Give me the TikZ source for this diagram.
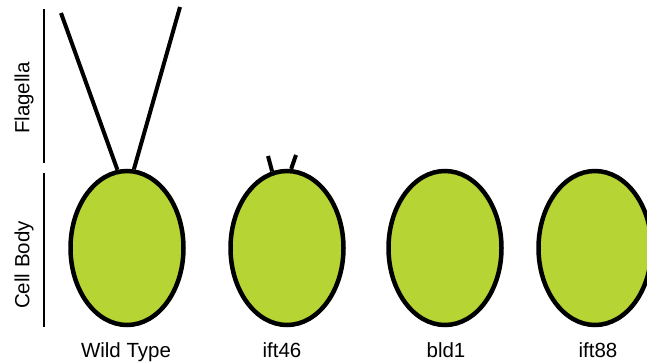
\documentclass[tikz,border=0pt]{standalone}
\usepackage{fontspec}
\setmainfont{Liberation Sans}
\usepackage{xcolor}
\usepackage{tikz}
\usetikzlibrary{shapes.geometric}
\definecolor{cellgreen}{RGB}{182,212,52}

\begin{document}
\begin{tikzpicture}[x=1pt,y=-1pt,line width=4.5pt,
    cell/.style={ellipse,draw=black,fill=cellgreen,inner sep=0pt,minimum width=113pt,minimum height=154pt},
    flag/.style={line width=4pt},
    bar/.style={line width=2.5pt},
    lbl/.style={font=\fontsize{20.5}{24}\selectfont}]
  \useasboundingbox (0,0) rectangle (647,362);
  % cell bodies
  \node[cell] (wt) at (127,248) {};
  \node[cell] (ift46) at (287,248) {};
  \node[cell] (bld1) at (445,248) {};
  \node[cell] (ift88) at (595,248) {};
  % flagella
  \coordinate (wtL) at (61,13);
  \coordinate (wtR) at (180,7);
  \coordinate (stubL) at (268,156);
  \coordinate (stubR) at (296,155);
  \draw[flag] (wt.97) -- (wtL);
  \draw[flag] (wt.85) -- (wtR);
  \draw[flag] (ift46.101) -- (stubL);
  \draw[flag] (ift46.87) -- (stubR);
  % side bars and their labels
  \draw[bar] (44,9) -- (44,163);
  \draw[bar] (44,173) -- (44,327);
  \node[lbl,rotate=90] (flagtxt) at (24,98) {Flagella};
  \node[lbl,rotate=90] (bodytxt) at (24,265) {Cell Body};
  % strain names
  \node[lbl,anchor=base] (wttxt) at (126,357) {Wild Type};
  \node[lbl,anchor=base] (ift46txt) at (282,357) {ift46};
  \node[lbl,anchor=base] (bld1txt) at (446,357) {bld1};
  \node[lbl,anchor=base] (ift88txt) at (598,357) {ift88};
\end{tikzpicture}
\end{document}
